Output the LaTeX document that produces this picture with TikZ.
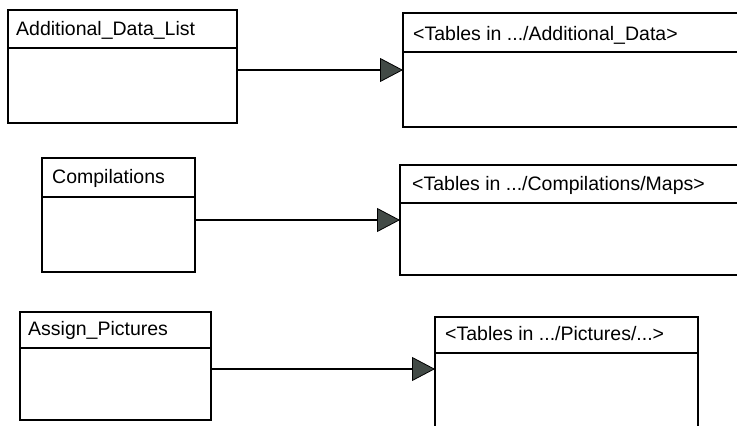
\documentclass[tikz,border=0pt]{standalone}
\usepackage{fontspec}
\setmainfont{Liberation Sans}
\usetikzlibrary{arrows.meta}
\definecolor{tipgray}{RGB}{66,74,70}
\tikzset{
  classbox/.style={draw=black, line width=2.4pt, rectangle, inner sep=0pt, outer sep=0pt, anchor=north west},
  divider/.style={draw=black, line width=2.2pt},
  title/.style={anchor=base west, inner sep=0pt, font=\fontsize{19.5}{22}\selectfont},
  conn/.style={draw=black, line width=2pt, -{Triangle[length=23pt, width=24pt, fill=tipgray, line width=0.8pt]}}
}
\begin{document}
\begin{tikzpicture}[x=1pt, y=-1pt]
\useasboundingbox (0,0) rectangle (737,426);
\clip (0,0) rectangle (737,426);
\fill[white] (0,0) rectangle (737,426);
% left boxes
\node[classbox, minimum width=229pt, minimum height=113pt] (a) at (8,10) {};
\node[classbox, minimum width=153pt, minimum height=114pt] (c) at (42,158) {};
\node[classbox, minimum width=191pt, minimum height=108pt] (e) at (20,312) {};
% right boxes
\node[classbox, minimum width=342pt, minimum height=114pt] (b) at (403,13) {};
\node[classbox, minimum width=345pt, minimum height=110pt] (d) at (400,165) {};
\node[classbox, minimum width=263pt, minimum height=130pt] (f) at (435,317) {};
% dividers
\draw[divider] (8,48) -- (237,48);
\draw[divider] (42,197) -- (195,197);
\draw[divider] (20,348) -- (211,348);
\draw[divider] (403,52) -- (745,52);
\draw[divider] (400,203) -- (745,203);
\draw[divider] (435,353) -- (698,353);
% titles
\node[title] (ta) at (16,35) {Additional\_Data\_List};
\node[title] (tc) at (52,183) {Compilations};
\node[title] (te) at (28,335) {Assign\_Pictures};
\node[title] (tb) at (413,40) {<Tables in .../Additional\_Data>};
\node[title] (td) at (412,190) {<Tables in .../Compilations/Maps>};
\node[title] (tf) at (445,340) {<Tables in .../Pictures/...>};
% connectors
\draw[conn] (a.east |- b.west) -- (b.west);
\draw[conn] (c.east |- d.west) -- (d.west);
\draw[conn] ([yshift=-3pt]e.east) coordinate (e3) -- (e3 -| f.west);
\end{tikzpicture}
\end{document}
